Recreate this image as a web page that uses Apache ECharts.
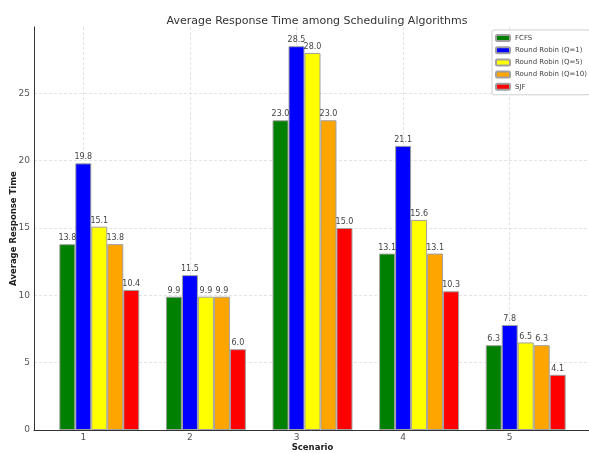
<!DOCTYPE html>
<html>
<head>
<meta charset="utf-8">
<script src="https://cdn.jsdelivr.net/npm/echarts@6/dist/echarts.min.js"></script>
<style>
html,body{margin:0;padding:0;background:#fff;}
#chart{width:589px;height:453px;}
</style>
</head>
<body>
<div id="chart"></div>
<script>
const scenarios = [1, 2, 3, 4, 5];
const algorithms = ['FCFS', 'Round Robin (Q=1)', 'Round Robin (Q=5)', 'Round Robin (Q=10)', 'SJF'];
const fcfs = [13.8, 9.9, 23.0, 13.1, 6.3];
const rrQ1 = [19.8, 11.5, 28.5, 21.1, 7.8];
const rrQ5 = [15.1, 9.9, 28.0, 15.6, 6.5];
const rrQ10 = [13.8, 9.9, 23.0, 13.1, 6.3];
const sjf = [10.4, 6.0, 15.0, 10.3, 4.1];
const yTicks = [0, 5, 10, 15, 20, 25];

const seriesValues = [fcfs, rrQ1, rrQ5, rrQ10, sjf];
const colors = ['#008000', '#0000ff', '#ffff00', '#ffa500', '#ff0000'];
const barStep = 0.15;

const chart = echarts.init(document.getElementById('chart'), null, {renderer: 'canvas'});

const series = algorithms.map((name, k) => ({
  name: name,
  type: 'bar',
  barWidth: 16,
  barGap: '-100%',
  data: scenarios.map((s, i) => [s + (k - 1) * barStep, seriesValues[k][i]]),
  itemStyle: {color: colors[k], borderColor: '#a0a0a0', borderWidth: 1},
  label: {
    show: true,
    position: 'top',
    distance: 2,
    fontSize: 8,
    fontFamily: 'DejaVu Sans',
    color: '#444',
    formatter: p => p.value[1].toFixed(1)
  }
}));

const gridLine = {color: '#dcdcdc', type: [3, 2], width: 0.8};

chart.setOption({
  animation: false,
  backgroundColor: '#fff',
  title: {
    text: 'Average Response Time among Scheduling Algorithms',
    left: 312,
    textAlign: 'center',
    top: 11,
    textStyle: {fontSize: 11, fontWeight: 'normal', color: '#333', fontFamily: 'DejaVu Sans'}
  },
  legend: {
    orient: 'vertical',
    left: 492,
    top: 30,
    itemWidth: 14,
    itemHeight: 6,
    itemGap: 4.2,
    padding: [4, 3, 4, 3],
    backgroundColor: '#fff',
    borderColor: '#d0d0d0',
    borderWidth: 1,
    borderRadius: 2,
    textStyle: {fontSize: 7, color: '#444', fontFamily: 'DejaVu Sans'},
    data: algorithms
  },
  grid: {left: 34, top: 27, bottom: 23, right: -2, containLabel: false, outerBoundsMode: 'none'},
  xAxis: {
    type: 'value',
    min: 0.5375,
    max: 5.7625,
    name: 'Scenario',
    nameLocation: 'middle',
    nameGap: 13,
    nameMoveOverlap: false,
    nameTextStyle: {fontSize: 8.5, fontWeight: 'bold', color: '#222', fontFamily: 'DejaVu Sans'},
    axisLine: {show: true, lineStyle: {color: '#333', width: 1}},
    axisTick: {show: false, customValues: scenarios},
    axisLabel: {
      fontSize: 9, color: '#555', fontFamily: 'DejaVu Sans', margin: 3,
      customValues: scenarios,
      formatter: v => String(v)
    },
    splitLine: {show: true, lineStyle: gridLine}
  },
  yAxis: {
    type: 'value',
    min: 0,
    max: 29.925,
    interval: 5,
    name: 'Average Response Time',
    nameLocation: 'middle',
    nameGap: 16,
    nameMoveOverlap: false,
    nameTextStyle: {fontSize: 8.5, fontWeight: 'bold', color: '#222', fontFamily: 'DejaVu Sans'},
    axisLine: {show: true, lineStyle: {color: '#333', width: 1}},
    axisTick: {show: false},
    axisLabel: {
      fontSize: 9, color: '#555', fontFamily: 'DejaVu Sans', margin: 4,
      showMaxLabel: false,
      formatter: v => (yTicks.indexOf(v) >= 0 ? String(v) : '')
    },
    splitLine: {show: true, showMinLine: false, showMaxLine: false, lineStyle: gridLine}
  },
  series: series
});
</script>
</body>
</html>
